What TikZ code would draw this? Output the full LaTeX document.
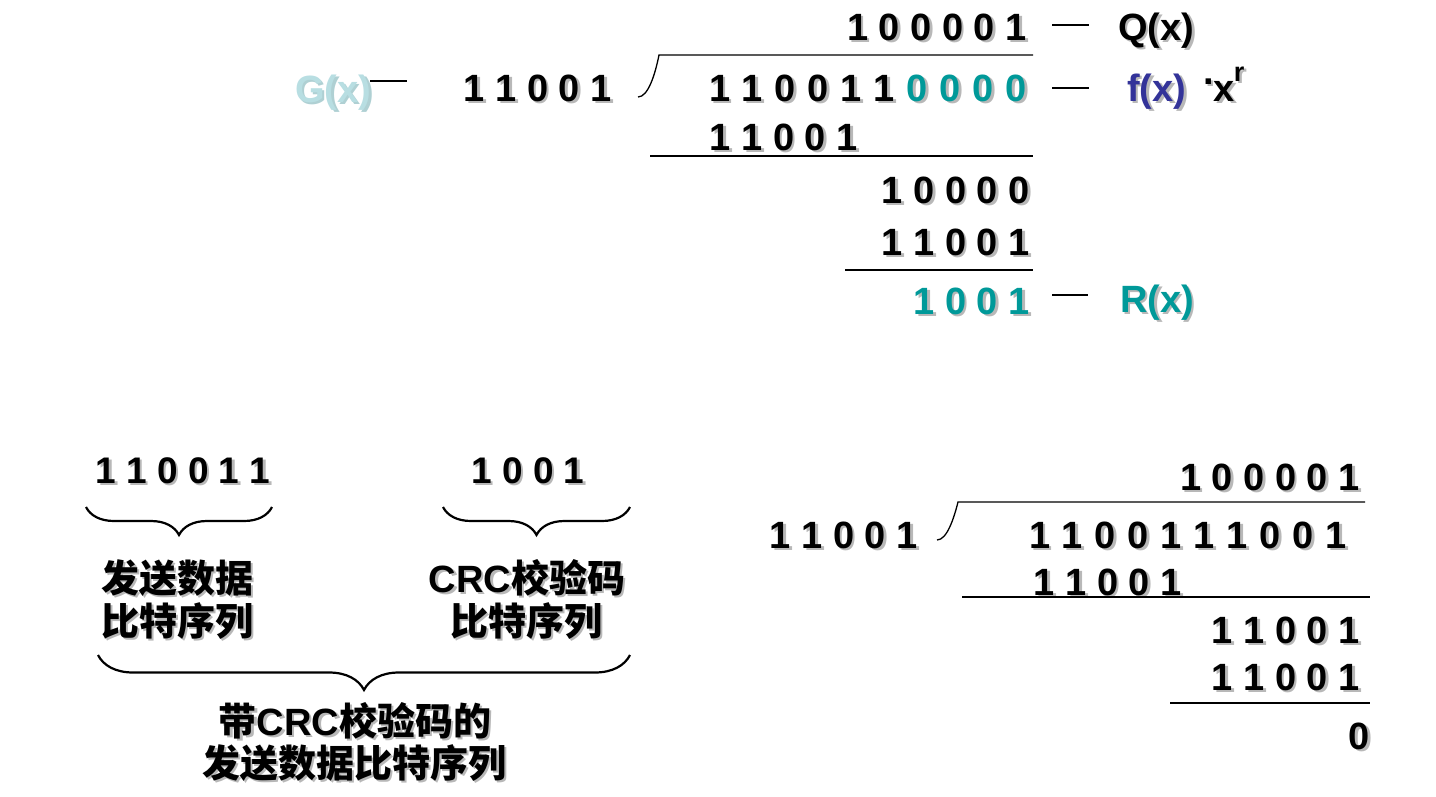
\documentclass[tikz,border=0pt]{standalone}
\usepackage{fontspec}
\setmainfont{Liberation Sans}
\newfontfamily\lat{Liberation Sans}
\newfontfamily\cjk{Noto Sans CJK SC}
\usetikzlibrary{decorations.pathreplacing}
\definecolor{tealc}{RGB}{0,153,153}
\definecolor{fblue}{RGB}{51,51,153}
\definecolor{glight}{RGB}{184,222,226}
\newcommand\useit[2]{#2}
\newcommand\col[2]{\textcolor{#1}{#2}}
\newcommand\shdc[2]{\makebox[0pt][l]{\kern2.5pt\raisebox{-2.5pt}{\color{#1}\let\col\useit #2}}#2}
\newcommand\shd[1]{\shdc{black!28}{#1}}
\newcommand\widesp{\spaceskip=1.12\fontdimen2\font\relax}
\tikzset{
  num/.style={font=\bfseries\fontsize{38}{44}\selectfont, inner sep=0pt, anchor=base east},
  numl/.style={font=\bfseries\fontsize{37}{44}\selectfont, inner sep=0pt, anchor=base},
  lab/.style={font=\bfseries\fontsize{38}{44}\selectfont, inner sep=0pt, anchor=base west},
  cjkt/.style={font=\cjk\bfseries\fontsize{38}{44}\selectfont, inner sep=0pt, anchor=base},
  rule/.style={line width=1.3pt, black},
  bracefig/.style={line width=2.2pt, decorate, decoration={brace, mirror, amplitude=#1}}
}
\begin{document}
\begin{tikzpicture}[x=1pt,y=1pt]
\useasboundingbox (0,0) rectangle (1436,-796);
% ---------- top division ----------
\node[num] (q1) at (1027,-40) {\shd{1 0 0 0 0 1}};
\node[num] (div1) at (612,-101) {\shd{1 1 0 0 1}};
\node[num] (f1) at (1027,-101) {\widesp\shd{1 1 0 0 1 1 \col{tealc}{0 0 0 0}}};
\node[num] (s1) at (858,-150) {\shd{1 1 0 0 1}};
\node[num] (r1) at (1030,-203) {\shd{1 0 0 0 0}};
\node[num] (r2) at (1030,-255) {\shd{1 1 0 0 1}};
\node[num] (rem) at (1030,-314) {\shd{\col{tealc}{1 0 0 1}}};
\node[lab] (Q) at (1118,-40) {\shd{Q(x)}};
\node[lab] (F) at (1127,-101) {\shd{\col{fblue}{f(x)}}};
\node[lab] (xr) at (1203,-101) {\shd{\raisebox{17pt}{.}x\kern-1pt\raisebox{20pt}{\fontsize{27}{27}\selectfont r}}};
\node[lab] (R) at (1120,-312) {\shd{\col{tealc}{R(x)}}};
\node[lab] (G) at (295,-102) {\shdc{glight!85!gray}{\col{glight}{G(x)}}};
\coordinate (g1) at (370,-81); \coordinate (g2) at (407,-81);
\coordinate (qa) at (1052,-25); \coordinate (qb) at (1089,-25);
\coordinate (fa) at (1052,-88); \coordinate (fb) at (1089,-88);
\coordinate (ra) at (1052,-295); \coordinate (rb) at (1088,-295);
\draw[rule] (g1) -- (g2);
\draw[rule] (qa) -- (qb);
\draw[rule] (fa) -- (fb);
\draw[rule] (ra) -- (rb);
\coordinate (b1) at (638,-97); \coordinate (b2) at (659,-55); \coordinate (b3) at (1033,-55);
\draw[rule] (b1) .. controls (648,-97) and (655,-75) .. (b2) -- (b3);
\draw[rule] (650,-156) -- (1033,-156);
\draw[rule] (845,-270) -- (1033,-270);
% ---------- bottom left ----------
\node[numl] (d1) at (183,-483) {\shd{1 1 0 0 1 1}};
\node[numl] (d2) at (528,-483) {\shd{1 0 0 1}};
\draw[bracefig=28pt] (86,-507) -- (272,-507);
\draw[bracefig=28pt] (443,-507) -- (630,-507);
\node[cjkt] (t1) at (177,-592) {\shd{发送数据}};
\node[cjkt] (t2) at (177,-635) {\shd{比特序列}};
\node[cjkt] (t3) at (527,-592) {\shd{{\lat\bfseries CRC}校验码}};
\node[cjkt] (t4) at (526,-635) {\shd{比特序列}};
\draw[bracefig=35pt] (98,-655) -- (630,-655);
\node[cjkt] (t5) at (355,-735) {\shd{带{\lat\bfseries CRC}校验码的}};
\node[cjkt] (t6) at (354,-777) {\shd{发送数据比特序列}};
% ---------- bottom right ----------
\node[num] (bq) at (1360,-490) {\shd{1 0 0 0 0 1}};
\node[num] (bd) at (918,-548) {\shd{1 1 0 0 1}};
\node[num] (bf) at (1347,-548) {\widesp\shd{1 1 0 0 1 1 1 0 0 1}};
\node[num] (bs1) at (1182,-595) {\shd{1 1 0 0 1}};
\node[num] (bs2) at (1360,-643) {\shd{1 1 0 0 1}};
\node[num] (bs3) at (1360,-690) {\shd{1 1 0 0 1}};
\node[num] (bz) at (1370,-749) {\shd{0}};
\coordinate (c1) at (937,-540); \coordinate (c2) at (958,-502); \coordinate (c3) at (1365,-502);
\draw[rule] (c1) .. controls (947,-540) and (954,-518) .. (c2) -- (c3);
\draw[rule] (962,-597) -- (1370,-597);
\draw[rule] (1170,-703) -- (1370,-703);
\end{tikzpicture}
\end{document}
